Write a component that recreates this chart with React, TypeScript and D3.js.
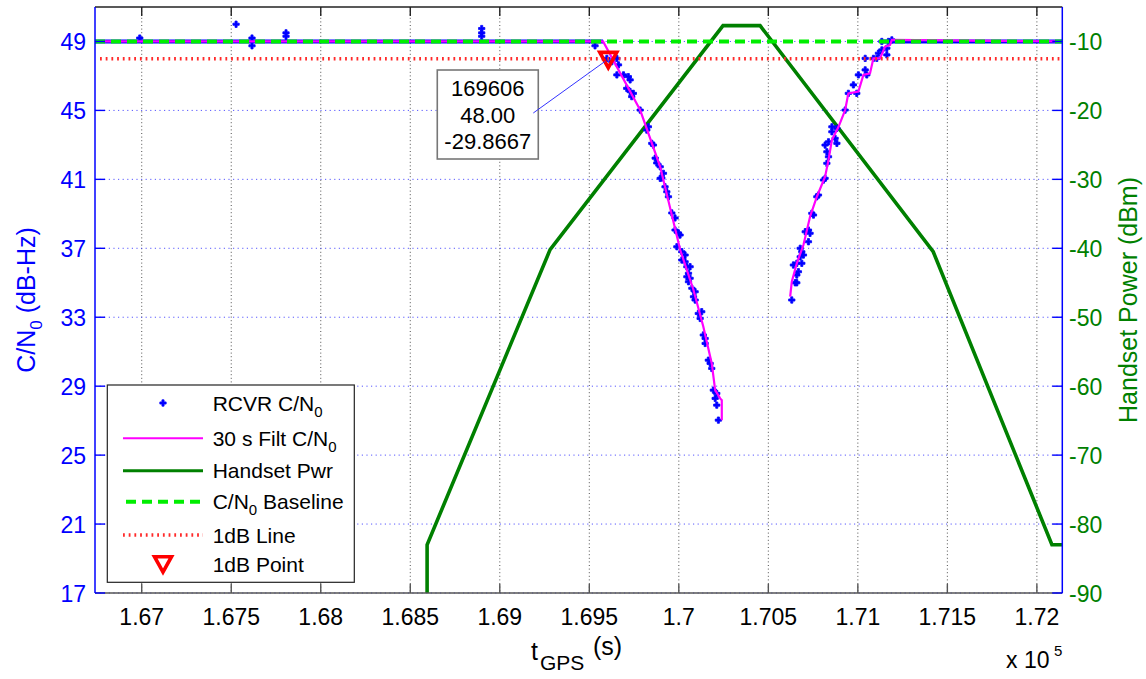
import React from "react";
import * as d3 from "d3";

// ---------- axes ----------
const xTickValues = [167000, 167500, 168000, 168500, 169000, 169500, 170000, 170500, 171000, 171500, 172000];
const xTickLabels = ["1.67", "1.675", "1.68", "1.685", "1.69", "1.695", "1.7", "1.705", "1.71", "1.715", "1.72"];
const yLeftTicks = [17, 21, 25, 29, 33, 37, 41, 45, 49];
const yRightTicks = [-90, -80, -70, -60, -50, -40, -30, -20, -10];
const xDomain = [166739, 172142];
const yLeftDomain = [17, 51];
const yRightDomain = [-90, -5];

// ---------- C/N0 reference lines ----------
const baselineLevel = 49;
const oneDbLevel = 48;
const oneDbPointT = 169606;
const oneDbPointCn0 = 48.0;
const oneDbPointPwr = -29.8667;

// ---------- receiver C/N0 samples ----------
// dense runs of samples sitting on 49 dB-Hz
const rcvrFlatStart = [166739, 171124];
const rcvrFlatEnd = [169577, 172142];
const rcvrFlatLevel = 49;
// isolated samples near the baseline
const rcvrOutT = [166989, 167527, 167616, 167616, 167806, 167806, 168899, 168899, 168899, 169532];
const rcvrOutCn0 = [49.2, 50.0, 48.75, 49.2, 49.5, 49.3, 49.75, 49.5, 49.3, 48.75];
// falling section
const rcvrFallT = [169598, 169626, 169654, 169663, 169654, 169691, 169718, 169728, 169709, 169728,
  169737, 169746, 169784, 169830, 169821, 169849, 169858, 169868, 169877, 169896,
  169914, 169896, 169905, 169923, 169933, 169942, 169961, 169979, 169979, 169998,
  170007, 169989, 170017, 170035, 170017, 170035, 170045, 170063, 170054, 170045,
  170063, 170054, 170073, 170091, 170082, 170091, 170109, 170128, 170119, 170137,
  170147, 170147, 170165, 170175, 170184, 170193, 170212, 170203, 170212, 170221];
const rcvrFallCn0 = [48.02, 47.83, 48.02, 47.64, 47.06, 47.06, 46.96, 46.77, 46.28, 46.09,
  45.80, 45.99, 45.02, 44.05, 43.86, 43.09, 42.99, 42.23, 41.95, 41.73,
  41.35, 41.06, 41.08, 40.57, 40.28, 39.99, 39.05, 38.76, 38.06, 37.89,
  37.77, 37.09, 36.80, 36.61, 36.32, 36.22, 35.93, 35.93, 35.55, 35.35,
  35.26, 35.06, 34.68, 34.48, 34.19, 34.00, 33.22, 33.32, 32.93, 31.97,
  31.77, 31.48, 30.51, 30.32, 30.03, 28.77, 28.58, 28.29, 27.90, 27.03];
// rising section
const rcvrRiseT = [170631, 170650, 170659, 170659, 170668, 170640, 170659, 170687, 170678, 170696,
  170678, 170687, 170724, 170706, 170724, 170733, 170743, 170752, 170771, 170780,
  170808, 170817, 170827, 170836, 170827, 170817, 170836, 170883, 170873, 170855,
  170855, 170883, 170929, 170947, 170994, 170975, 171003, 171050, 171041, 171041,
  171087, 171106, 171115, 171134, 171162, 171162, 171134, 171171, 171190];
const rcvrRiseCn0 = [34.00, 35.00, 35.00, 35.45, 35.64, 36.03, 36.13, 36.13, 36.51, 36.61,
  37.00, 36.80, 37.38, 37.96, 38.06, 37.87, 39.03, 38.93, 39.99, 40.09,
  40.96, 41.06, 41.93, 42.31, 42.60, 42.99, 43.18, 43.09, 43.38, 43.76,
  44.05, 43.96, 45.02, 45.99, 45.99, 46.48, 47.06, 47.06, 47.35, 48.02,
  48.02, 48.02, 48.32, 48.51, 48.61, 48.22, 49.0, 49.0, 49.09];

// ---------- 30 s filtered C/N0 ----------
const filtFallT = [166739, 169577, 169784, 169896, 170008, 170082, 170137, 170184, 170203, 170231, 170240, 170240];
const filtFallCn0 = [49, 49, 45.02, 41.73, 36.9, 34.58, 32.45, 30.32, 28.77, 28.29, 28.19, 27.03];
const filtRiseT = [170622, 170631, 170659, 170696, 170733, 170771, 170817, 170836, 170855, 170892,
  170929, 170947, 171003, 171031, 171068, 171087, 171124, 171152, 171180, 171190, 172142];
const filtRiseCn0 = [34.19, 35.06, 36.13, 37.19, 38.83, 39.99, 41.15, 42.12, 43.28, 44.05,
  45.02, 45.99, 46.09, 47.06, 47.15, 48.02, 48.02, 48.70, 48.80, 49.09, 49];

// ---------- handset power (dBm) ----------
const pwrT = [168594, 168594, 169281, 170247, 170454, 171421, 172084, 172142];
const pwrDbm = [-90, -83, -40.2, -7.7, -7.7, -40.5, -83, -83];

// ---------- legend ----------
const legendLabels = ["RCVR C/N_0", "30 s Filt C/N_0", "Handset Pwr", "C/N_0 Baseline", "1dB Line", "1dB Point"];

const FONT = "'Liberation Sans', Arial, Helvetica, sans-serif";
const PL = 95, PR = 1062.3, PT = 7, PB = 593;
const BLUE = "#0000ff";
const MAG = "#ff00ff";
const DKGREEN = "#008000";
const LTGREEN = "#00ee00";
const RED = "#ff2a2a";

function SubText({ label, x, y, size, fill, sub }: { label: string; x: number; y: number; size: number; fill: string; sub: number }) {
  const parts = label.split("_");
  if (parts.length === 1) {
    return <text x={x} y={y} fontSize={size} fill={fill}>{label}</text>;
  }
  const rest = parts[1].slice(1);
  return (
    <text x={x} y={y} fontSize={size} fill={fill}>
      {parts[0]}
      <tspan fontSize={sub} dy={6}>{parts[1][0]}</tspan>
      <tspan dy={-6}>{rest}</tspan>
    </text>
  );
}

export default function App() {
  const x = d3.scaleLinear().domain(xDomain).range([PL, PR]);
  const yL = d3.scaleLinear().domain(yLeftDomain).range([PB, PT]);
  const yR = d3.scaleLinear().domain(yRightDomain).range([PB, PT]);

  const line = d3.line<[number, number]>();
  const pwrPath = line(pwrT.map((t, i) => [x(t), yR(pwrDbm[i])]));
  const filtFallPath = line(filtFallT.map((t, i) => [x(t), yL(filtFallCn0[i])]));
  const filtRisePath = line(filtRiseT.map((t, i) => [x(t), yL(filtRiseCn0[i])]));

  const marker = d3.symbol().type(d3.symbolCross).size(22)() as string;

  const allPts: [number, number][] = [
    ...rcvrOutT.map((t, i) => [t, rcvrOutCn0[i]] as [number, number]),
    ...rcvrFallT.map((t, i) => [t, rcvrFallCn0[i]] as [number, number]),
    ...rcvrRiseT.map((t, i) => [t, rcvrRiseCn0[i]] as [number, number]),
  ];

  const px = x(oneDbPointT);
  const py = yL(oneDbPointCn0);
  const tri = (cx: number, cy: number) => `M${cx - 8.5},${cy - 6.3}L${cx + 8.5},${cy - 6.3}L${cx},${cy + 9}Z`;

  // legend geometry
  const LX0 = 107.3, LX1 = 354.3, LY0 = 385, LY1 = 582.3;
  const rowY = [403, 438.3, 470.7, 501.7, 535, 564];
  const sx0 = 123, sx1 = 203, tx = 212.7;

  const boxL = px - 171, boxT = py + 11.3, boxW = 101, boxH = 89;

  return (
    <svg width={1146} height={679} style={{ position: "absolute", left: 0, top: 0, background: "#fff" }} fontFamily={FONT}>
      <defs>
        <clipPath id="plot">
          <rect x={PL} y={PT} width={PR - PL} height={PB - PT} />
        </clipPath>
      </defs>
      <rect x={0} y={0} width={1146} height={679} fill="#fff" />

      {/* grid */}
      {xTickValues.map((v) => (
        <line key={"gx" + v} x1={x(v)} x2={x(v)} y1={PT} y2={PB} stroke="#333" strokeWidth={1} strokeDasharray="1,2.6" opacity={0.85} />
      ))}
      {yLeftTicks.map((v) => (
        <line key={"gy" + v} x1={PL} x2={PR} y1={yL(v)} y2={yL(v)} stroke="#3030ff" strokeWidth={1} strokeDasharray="1.2,3.4" opacity={0.8} />
      ))}

      <g clipPath="url(#plot)">
        {/* handset power */}
        <path d={pwrPath || ""} fill="none" stroke={DKGREEN} strokeWidth={3.6} strokeLinejoin="miter" />

        {/* receiver samples: dense runs */}
        {rcvrFlatStart.map((s, i) => (
          <line key={"fl" + i} x1={x(s)} x2={x(rcvrFlatEnd[i])} y1={yL(rcvrFlatLevel)} y2={yL(rcvrFlatLevel)} stroke={BLUE} strokeWidth={4} />
        ))}
        {allPts.map(([t, c], i) => (
          <path key={"p" + i} d={marker} transform={`translate(${x(t)},${yL(c)})`} fill={BLUE} stroke={BLUE} strokeWidth={0.8} />
        ))}

        {/* filtered */}
        <path d={filtFallPath || ""} fill="none" stroke={MAG} strokeWidth={2.2} />
        <path d={filtRisePath || ""} fill="none" stroke={MAG} strokeWidth={2.2} />

        {/* baseline */}
        <line x1={PL} x2={PR} y1={yL(baselineLevel)} y2={yL(baselineLevel)} stroke={LTGREEN} strokeWidth={4} strokeDasharray="10,6" />
        {/* 1 dB line */}
        <line x1={PL + 5} x2={PR} y1={yL(oneDbLevel)} y2={yL(oneDbLevel)} stroke={RED} strokeWidth={3.6} strokeDasharray="1.8,3.9" />
        {/* 1 dB point */}
        <path d={tri(px, py)} fill="none" stroke="#ff0000" strokeWidth={3.6} />
      </g>

      {/* axes frame */}
      <line x1={PL} x2={PR} y1={PT} y2={PT} stroke="#222" strokeWidth={1.4} />
      <line x1={PL} x2={PR} y1={PB} y2={PB} stroke="#555" strokeWidth={1.4} />
      <line x1={PL} x2={PL} y1={PT} y2={PB} stroke={BLUE} strokeWidth={1.5} />
      <line x1={PR} x2={PR} y1={PT} y2={PB} stroke={BLUE} strokeWidth={1.5} />

      {/* x ticks */}
      {xTickValues.map((v, i) => (
        <g key={"xt" + v}>
          <line x1={x(v)} x2={x(v)} y1={PB} y2={PB - 9} stroke="#555" strokeWidth={1.4} />
          <line x1={x(v)} x2={x(v)} y1={PT} y2={PT + 9} stroke="#222" strokeWidth={1.4} />
          <text x={x(v)} y={625} fontSize={23} textAnchor="middle" fill="#000">{xTickLabels[i]}</text>
        </g>
      ))}
      {/* left ticks */}
      {yLeftTicks.map((v) => (
        <g key={"yl" + v}>
          <line x1={PL} x2={PL + 10} y1={yL(v)} y2={yL(v)} stroke={BLUE} strokeWidth={1.4} />
          <text x={86} y={yL(v) + 8.5} fontSize={23} textAnchor="end" fill={BLUE}>{v}</text>
        </g>
      ))}
      {/* right ticks */}
      {yRightTicks.map((v) => (
        <g key={"yr" + v}>
          <line x1={PR} x2={PR - 10} y1={yR(v)} y2={yR(v)} stroke={BLUE} strokeWidth={1.4} />
          <text x={1069} y={yR(v) + 8.5} fontSize={23} textAnchor="start" fill={DKGREEN}>{v}</text>
        </g>
      ))}

      {/* axis titles */}
      <text x={531} y={660} fontSize={25} fill="#000">t</text>
      <text x={540} y={670} fontSize={21} fill="#000">GPS</text>
      <text x={593} y={655} fontSize={25} fill="#000">(s)</text>

      <text x={1006} y={668} fontSize={23} fill="#000">x 10</text>
      <text x={1054} y={656} fontSize={15} fill="#000">5</text>

      <g transform={`translate(35,${(PT + PB) / 2}) rotate(-90)`}>
        <text x={0} y={0} fontSize={25} fill={BLUE} textAnchor="middle">
          C/N<tspan fontSize={17} dy={7}>0</tspan><tspan dy={-7}> (dB-Hz)</tspan>
        </text>
      </g>
      <g transform={`translate(1137,${(PT + PB) / 2}) rotate(-90)`}>
        <text x={0} y={0} fontSize={25} fill={DKGREEN} textAnchor="middle">Handset Power (dBm)</text>
      </g>

      {/* data tip */}
      <rect x={boxL} y={boxT} width={boxW} height={boxH} fill="#fff" stroke="#777" strokeWidth={1.6} />
      <text x={boxL + boxW / 2} y={boxT + 26} fontSize={22} textAnchor="middle" fill="#000">{String(oneDbPointT)}</text>
      <text x={boxL + boxW / 2} y={boxT + 52.5} fontSize={22} textAnchor="middle" fill="#000">{oneDbPointCn0.toFixed(2)}</text>
      <text x={boxL + boxW / 2} y={boxT + 79} fontSize={22} textAnchor="middle" fill="#000">{String(oneDbPointPwr)}</text>
      <line x1={boxL + boxW - 5} y1={boxT + 43} x2={px - 3} y2={py + 2.5} stroke="#3333ff" strokeWidth={1} />

      {/* legend */}
      <rect x={LX0} y={LY0} width={LX1 - LX0} height={LY1 - LY0} fill="#fff" stroke="#222" strokeWidth={1.2} />
      <path d={marker} transform={`translate(${(sx0 + sx1) / 2},${rowY[0]})`} fill={BLUE} stroke={BLUE} strokeWidth={0.8} />
      <line x1={sx0} x2={sx1} y1={rowY[1]} y2={rowY[1]} stroke={MAG} strokeWidth={2} />
      <line x1={sx0} x2={sx1} y1={rowY[2]} y2={rowY[2]} stroke={DKGREEN} strokeWidth={3} />
      <line x1={sx0 + 3} x2={sx1} y1={rowY[3]} y2={rowY[3]} stroke={LTGREEN} strokeWidth={4} strokeDasharray="10,6" />
      <line x1={sx0} x2={sx1} y1={rowY[4]} y2={rowY[4]} stroke={RED} strokeWidth={3.6} strokeDasharray="1.8,3.9" />
      <path d={tri((sx0 + sx1) / 2, rowY[5] - 1)} fill="none" stroke="#ff0000" strokeWidth={3.6} />
      {legendLabels.map((lab, i) => (
        <SubText key={"lg" + i} label={lab} x={tx} y={rowY[i] + 7.5} size={21} sub={15} fill="#000" />
      ))}
    </svg>
  );
}
